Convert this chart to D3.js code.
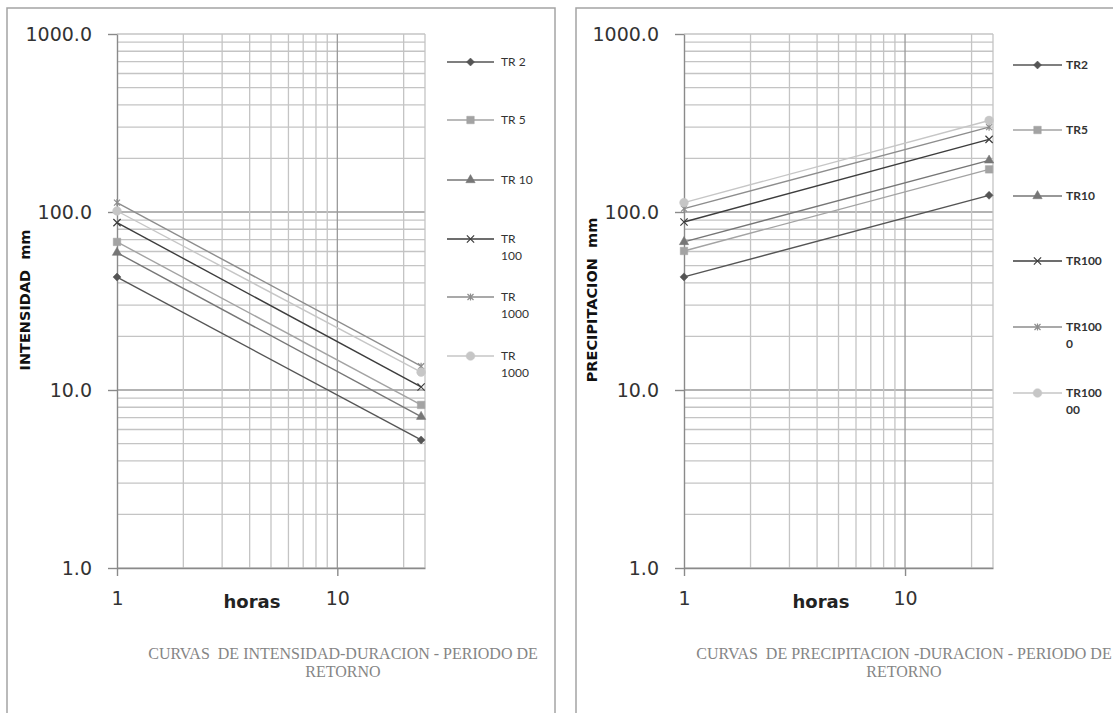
<!DOCTYPE html>
<html>
<head>
<meta charset="utf-8">
<script src="https://cdn.jsdelivr.net/npm/d3@7"></script>
<style>
  body { margin: 0; background: #fff; }
  svg { display: block; }
</style>
</head>
<body>
<div id="chart"></div>
<script>
// Durations (hours) at which both curves were computed.
var horas = [1, 24];

// Intensity values (mm), one list per return period.
var intTR2 = [43.1, 5.24];
var intTR5 = [67.9, 8.24];
var intTR10 = [59.1, 7.08];
var intTR100 = [87.2, 10.4];
var intTR1000a = [112.9, 13.6];
var intTR1000b = [101.3, 12.6];

// Precipitation values (mm), right chart.
var preTR2 = [43.2, 124.1];
var preTR5 = [60.4, 173.6];
var preTR10 = [67.9, 195.0];
var preTR100 = [87.9, 255.9];
var preTR1000 = [104.5, 299.8];
var preTR10000 = [112.9, 326.8];

// Legend labels (as they wrap in the picture).
var intLabels = [["TR 2"], ["TR 5"], ["TR 10"], ["TR", "100"], ["TR", "1000"], ["TR", "1000"]];
var preLabels = [["TR2"], ["TR5"], ["TR10"], ["TR100"], ["TR100", "0"], ["TR100", "00"]];

var yTicks = [1, 10, 100, 1000];
var xTicks = [1, 10];

// Series look: colour and marker, in series order.
var colors = ["#555555", "#a3a3a3", "#767676", "#3d3d3d", "#8d8d8d", "#c6c6c6"];
var markers = ["diamond", "square", "triangle", "x", "star", "circle"];

var width = 1113, height = 713;
var svg = d3.select("#chart").append("svg")
    .attr("width", width)
    .attr("height", height);

// Excel-like star marker: an x with a vertical bar
var symbolStar = {
  draw: function(ctx, size) {
    var r = Math.sqrt(size) / 2;
    ctx.moveTo(-r, -r); ctx.lineTo(r, r);
    ctx.moveTo(-r, r); ctx.lineTo(r, -r);
    ctx.moveTo(0, -r * 1.2); ctx.lineTo(0, r * 1.2);
  }
};
// squat diamond like the Excel one (square turned 45 degrees)
var symbolRhomb = {
  draw: function(ctx, size) {
    var r = Math.sqrt(size) / 2;
    ctx.moveTo(0, -r); ctx.lineTo(r, 0); ctx.lineTo(0, r); ctx.lineTo(-r, 0);
    ctx.closePath();
  }
};

function drawMarker(g, kind, color, cx, cy) {
  var path;
  if (kind == "diamond") path = d3.symbol(symbolRhomb, 64)();
  else if (kind == "square") path = d3.symbol(d3.symbolSquare, 56)();
  else if (kind == "triangle") path = d3.symbol(d3.symbolTriangle, 38)();
  else if (kind == "x") path = d3.symbol(d3.symbolX, 36)();
  else if (kind == "star") path = d3.symbol(symbolStar, 36)();
  else path = d3.symbol(d3.symbolCircle, 60)();
  var stroked = (kind == "x" || kind == "star");
  g.append("path")
    .attr("d", path)
    .attr("transform", "translate(" + cx + "," + cy + ")")
    .style("fill", stroked ? "none" : color)
    .style("stroke", color)
    .style("stroke-width", stroked ? 1.2 : 0.5);
}

function drawPanel(cfg) {
  var x = d3.scaleLog().domain([1, 25]).range([cfg.left, cfg.right]);
  var y = d3.scaleLog().domain([1, 1000]).range([568, 34]);

  // panel frame
  svg.append("rect")
    .attr("x", cfg.frameX).attr("y", 8)
    .attr("width", cfg.frameW).attr("height", 740)
    .style("fill", "none")
    .style("stroke", "#a4a4a4")
    .style("stroke-width", 1.5);

  var g = svg.append("g");

  // horizontal grid
  var hLines = [];
  [1, 10, 100].forEach(function(d) {
    for (var k = 1; k < 10; k++) hLines.push(k * d);
  });
  hLines.push(1000);
  g.selectAll(".hgrid").data(hLines).enter().append("line")
    .attr("x1", cfg.left).attr("x2", cfg.right)
    .attr("y1", function(d) { return y(d); })
    .attr("y2", function(d) { return y(d); })
    .style("stroke", function(d) { return yTicks.indexOf(d) >= 0 && d > 1 && d < 1000 ? "#9a9a9a" : "#c4c4c4"; })
    .style("stroke-width", 1.3);

  // vertical grid
  var vLines = [2, 3, 4, 5, 6, 7, 8, 9, 10, 20, 25];
  g.selectAll(".vgrid").data(vLines).enter().append("line")
    .attr("x1", function(d) { return x(d); })
    .attr("x2", function(d) { return x(d); })
    .attr("y1", 34).attr("y2", 568)
    .style("stroke", function(d) { return d == 10 ? "#9a9a9a" : "#c4c4c4"; })
    .style("stroke-width", 1.3);

  // axes
  var yAxis = d3.axisLeft(y).tickValues(yTicks).tickFormat(d3.format(".1f"))
      .tickSize(9).tickSizeOuter(0).tickPadding(16);
  var xAxis = d3.axisBottom(x).tickValues(xTicks).tickFormat(d3.format("d"))
      .tickSize(8).tickSizeOuter(0).tickPadding(16);

  var ya = g.append("g")
      .attr("transform", "translate(" + cfg.left + ",0)")
      .call(yAxis);
  var xa = g.append("g")
      .attr("transform", "translate(0,568)")
      .call(xAxis);
  [ya, xa].forEach(function(a) {
    a.selectAll("path, line").style("stroke", "#8a8a8a").style("stroke-width", 1.4);
    a.selectAll("text")
      .style("font-family", "DejaVu Sans, sans-serif")
      .style("font-size", "19px")
      .style("fill", "#333");
  });

  // axis titles
  g.append("text")
    .attr("x", cfg.horasX).attr("y", 608)
    .attr("text-anchor", "middle")
    .style("font-family", "DejaVu Sans, sans-serif")
    .style("font-weight", "bold")
    .style("font-size", "18px")
    .style("fill", "#222")
    .text("horas");

  g.append("text")
    .attr("transform", "translate(" + cfg.yLabelX + ",300) rotate(-90)")
    .attr("text-anchor", "middle")
    .style("font-family", "DejaVu Sans, sans-serif")
    .style("font-weight", "bold")
    .style("font-size", "14.5px")
    .style("fill", "#111")
    .style("white-space", "pre")
    .text(cfg.yLabel);

  // series lines + markers
  var line = d3.line()
    .x(function(d, i) { return x(horas[i]); })
    .y(function(d) { return y(d); });

  cfg.series.forEach(function(vals, s) {
    g.append("path")
      .datum(vals)
      .attr("d", line)
      .style("fill", "none")
      .style("stroke", colors[s])
      .style("stroke-width", 1.4);
    vals.forEach(function(v, i) {
      drawMarker(g, markers[s], colors[s], x(horas[i]), y(v));
    });
  });

  // legend
  var lg = g.append("g");
  cfg.labels.forEach(function(lines, s) {
    var ly = cfg.legendY[s];
    lg.append("line")
      .attr("x1", cfg.legX).attr("x2", cfg.legX + cfg.legW)
      .attr("y1", ly).attr("y2", ly)
      .style("stroke", colors[s])
      .style("stroke-width", 1.4);
    drawMarker(lg, markers[s], colors[s], cfg.legX + cfg.legW / 2, ly);
    var t = lg.append("text")
      .attr("x", cfg.legX + cfg.legW + cfg.legGap)
      .attr("y", ly + 4)
      .style("font-family", "Lato, sans-serif")
      .style("font-size", "12px")
      .style("font-weight", cfg.legBold ? "bold" : "normal")
      .style("fill", "#333");
    lines.forEach(function(txt, k) {
      t.append("tspan")
        .attr("x", cfg.legX + cfg.legW + cfg.legGap)
        .attr("dy", k == 0 ? 0 : 17)
        .text(txt);
    });
  });

  // bottom title, two lines
  [0, 1].forEach(function(k) {
    g.append("text")
      .attr("x", cfg.titleX)
      .attr("y", k == 0 ? 659 : 677)
      .attr("text-anchor", "middle")
      .style("font-family", "Liberation Serif, Times New Roman, serif")
      .style("font-size", "16px")
      .style("fill", "#858585")
      .style("white-space", "pre")
      .text(cfg.title[k]);
  });
}

drawPanel({
  left: 117, right: 425,
  frameX: 7, frameW: 548,
  horasX: 252, yLabelX: 30, yLabel: "INTENSIDAD  mm",
  series: [intTR2, intTR5, intTR10, intTR100, intTR1000a, intTR1000b],
  labels: intLabels,
  legendY: [62, 120, 180, 239, 297, 356],
  legX: 447, legW: 47, legGap: 7, legBold: false,
  titleX: 343,
  title: ["CURVAS  DE INTENSIDAD-DURACION - PERIODO DE", "RETORNO"]
});

drawPanel({
  left: 684, right: 993,
  frameX: 576, frameW: 600,
  horasX: 821, yLabelX: 597, yLabel: "PRECIPITACION  mm",
  series: [preTR2, preTR5, preTR10, preTR100, preTR1000, preTR10000],
  labels: preLabels,
  legendY: [65, 130, 196, 261, 327, 393],
  legX: 1013, legW: 49, legGap: 4, legBold: true,
  titleX: 904,
  title: ["CURVAS  DE PRECIPITACION -DURACION - PERIODO DE", "RETORNO"]
});
</script>
</body>
</html>
